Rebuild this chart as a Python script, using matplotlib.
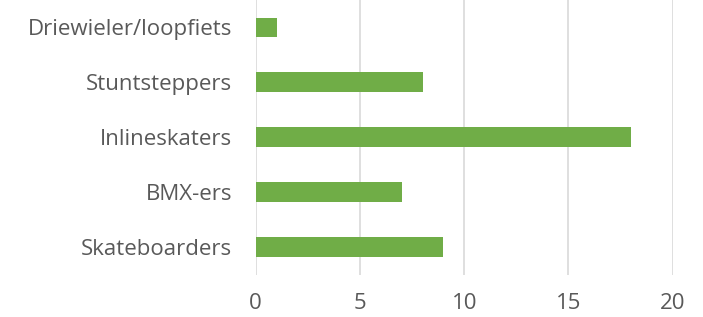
import matplotlib
matplotlib.use("Agg")
import matplotlib.pyplot as plt

categories = ["Skateboarders", "BMX-ers", "Inlineskaters", "Stuntsteppers", "Driewieler/loopfiets"]
values = [9, 7, 18, 8, 1]
xticks = [0, 5, 10, 15, 20]

plt.rcParams['font.family'] = ['Open Sans', 'DejaVu Sans']

fig = plt.figure(figsize=(7.03, 3.17), dpi=100)
ax = fig.add_axes([255.7/703, 1 - 274.5/317, (672.7-255.7)/703, 274.5/317])
ax.barh(range(len(categories)), values, height=0.36, color="#70AD47", zorder=3)
ax.set_xlim(0, 20)
ax.set_ylim(-0.5, len(categories) - 0.5)
ax.set_xticks(xticks)
ax.set_xticklabels([str(t) for t in xticks])
ax.set_yticks(range(len(categories)))
ax.set_yticklabels(categories)
for s in ax.spines.values():
    s.set_visible(False)
ax.grid(axis="x", color="#D9D9D9", linewidth=1.2, zorder=0)
ax.tick_params(axis="both", length=0, labelsize=16, labelcolor="#595959")
ax.tick_params(axis="x", pad=13)
ax.tick_params(axis="y", pad=17)
fig.savefig("out.png", dpi=100)
